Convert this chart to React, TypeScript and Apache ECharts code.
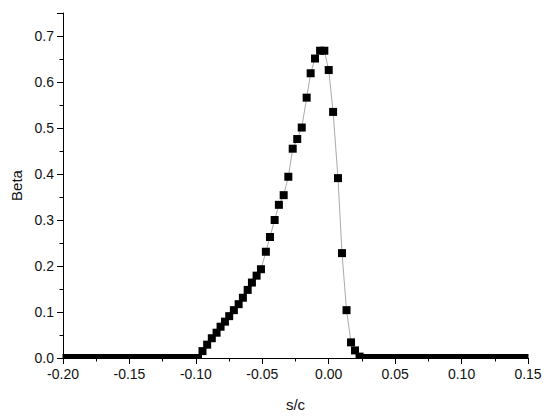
import React, { useEffect, useRef } from "react";
import * as echarts from "echarts";

// Flat (Beta = 0) region before the rise
const leftZeroX = [
  -0.2, -0.1966, -0.1932, -0.1898, -0.1864, -0.183, -0.1797, -0.1763, -0.1729, -0.1695,
  -0.1661, -0.1627, -0.1593, -0.1559, -0.1525, -0.1491, -0.1458, -0.1424, -0.139, -0.1356,
  -0.1322, -0.1288, -0.1254, -0.122, -0.1186, -0.1152, -0.1119, -0.1085, -0.1051, -0.1017,
  -0.0984,
];

// Rising / peak / falling region
const peakX = [
  -0.095, -0.0915, -0.088, -0.0844, -0.0814, -0.0781, -0.0749, -0.0714, -0.0678, -0.0646,
  -0.061, -0.0578, -0.0543, -0.051, -0.0473, -0.0442, -0.0407, -0.0375, -0.0339, -0.0304,
  -0.0271, -0.0237, -0.0203, -0.0166, -0.0136, -0.0103, -0.0065, -0.0033, 0.0, 0.0033,
  0.007, 0.01, 0.0134, 0.0168, 0.0198, 0.0232,
];
const peakY = [
  0.015, 0.029, 0.043, 0.055, 0.068, 0.079, 0.091, 0.104, 0.117, 0.131,
  0.148, 0.164, 0.179, 0.193, 0.231, 0.263, 0.3, 0.333, 0.354, 0.394,
  0.455, 0.476, 0.501, 0.566, 0.619, 0.651, 0.668, 0.668, 0.626, 0.535,
  0.391, 0.228, 0.104, 0.034, 0.0165, 0.003,
];

// Flat (Beta = 0) region after the fall
const rightZeroX = [
  0.0266, 0.03, 0.0335, 0.0369, 0.0403, 0.0438, 0.0472, 0.0506, 0.0541, 0.0575,
  0.0609, 0.0644, 0.0678, 0.0712, 0.0747, 0.0781, 0.0815, 0.085, 0.0884, 0.0918,
  0.0953, 0.0987, 0.1021, 0.1056, 0.109, 0.1124, 0.1159, 0.1193, 0.1227, 0.1262,
  0.1296, 0.133, 0.1365, 0.1399, 0.1433, 0.1468, 0.15,
];

const xTicks = { min: -0.2, max: 0.15, interval: 0.05 };
const yTicks = { min: 0, max: 0.75, interval: 0.1 };

export default function App() {
  const ref = useRef<HTMLDivElement>(null);

  useEffect(() => {
    if (!ref.current) return;
    const chart = echarts.init(ref.current, undefined, { renderer: "svg" });

    const data: number[][] = [
      ...leftZeroX.map((x) => [x, 0]),
      ...peakX.map((x, i) => [x, peakY[i]]),
      ...rightZeroX.map((x) => [x, 0]),
    ];

    const font = "'Liberation Sans', Arial, sans-serif";
    const axisCommon = {
      z: 200,
      axisLine: { show: true, onZero: false, lineStyle: { color: "#000", width: 1 } },
      axisTick: { show: true, inside: false, length: 6, lineStyle: { color: "#000" } },
      minorTick: { show: true, splitNumber: 2, length: 3.5, lineStyle: { color: "#000" } },
      splitLine: { show: false },
      minorSplitLine: { show: false },
    };

    chart.setOption({
      animation: false,
      backgroundColor: "#fff",
      grid: { left: 63, right: 22, top: 13, bottom: 60, containLabel: false },
      xAxis: {
        type: "value",
        ...xTicks,
        ...axisCommon,
        name: "s/c",
        nameLocation: "middle",
        nameGap: 39,
        nameTextStyle: { fontFamily: font, fontSize: 15, color: "#111" },
        axisLabel: {
          margin: 9,
          fontFamily: font,
          fontSize: 14,
          color: "#111",
          formatter: (v: number) => v.toFixed(2),
        },
      },
      yAxis: {
        type: "value",
        ...yTicks,
        ...axisCommon,
        name: "Beta",
        nameLocation: "middle",
        nameGap: 38,
        nameTextStyle: { fontFamily: font, fontSize: 15, color: "#111" },
        axisLabel: {
          margin: 9,
          fontFamily: font,
          fontSize: 14,
          color: "#111",
          showMaxLabel: false,
          formatter: (v: number) => v.toFixed(1),
        },
      },
      graphic: {
        elements: [
          {
            type: "rect",
            z: 100,
            shape: { x: 40, y: 359, width: 510, height: 5 },
            style: { fill: "#fff" },
          },
          {
            type: "rect",
            z: 100,
            shape: { x: 50, y: 345, width: 12.5, height: 20 },
            style: { fill: "#fff" },
          },
          {
            type: "rect",
            z: 100,
            shape: { x: 528.5, y: 345, width: 20, height: 20 },
            style: { fill: "#fff" },
          },
        ],
      },
      series: [
        {
          type: "line",
          data,
          clip: false,
          symbol: "rect",
          symbolSize: 8,
          itemStyle: { color: "#000" },
          lineStyle: { color: "#aaa", width: 1 },
        },
      ],
    });

    return () => chart.dispose();
  }, []);

  return (
    <div
      ref={ref}
      style={{ position: "absolute", left: 0, top: 0, width: 550, height: 418 }}
    />
  );
}
